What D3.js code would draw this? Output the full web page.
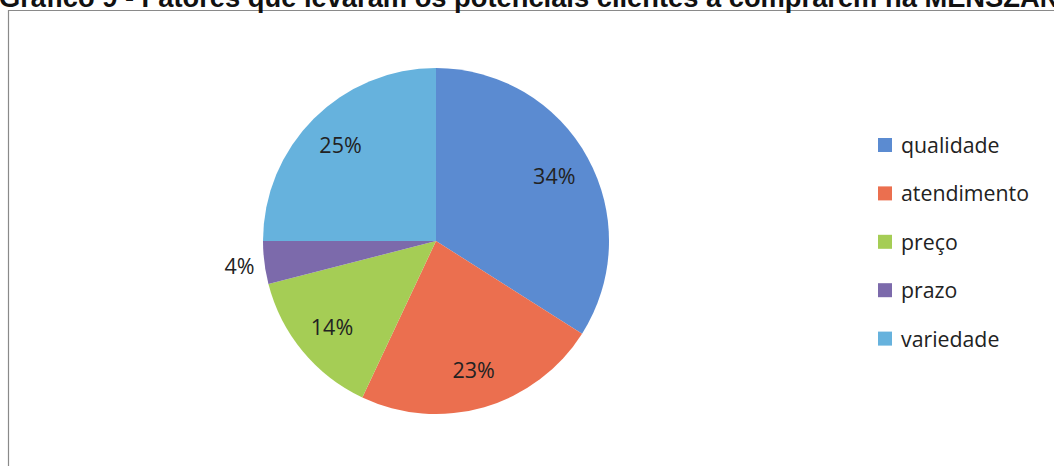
<!DOCTYPE html>
<html>
<head>
<meta charset="utf-8">
<script src="https://cdn.jsdelivr.net/npm/d3@7/dist/d3.min.js"></script>
<style>
html,body{margin:0;padding:0;background:#fff;}
svg{display:block;}
</style>
</head>
<body>
<script>
const categories = ["qualidade", "atendimento", "preço", "prazo", "variedade"];
const values = [34, 23, 14, 4, 25];
const labels = ["34%", "23%", "14%", "4%", "25%"];
const colors = ["#5b8bd1", "#eb6f4f", "#a5cd55", "#7c6aab", "#66b2dd"];
const title = "Gráfico 9 - Fatores que levaram os potenciais clientes a comprarem na MENSZAN";

const W = 1054, H = 466;
const svg = d3.select("body").append("svg").attr("width", W).attr("height", H);
svg.append("rect").attr("width", W).attr("height", H).attr("fill", "#fff");

// frame
svg.append("path")
  .attr("d", `M${W+5},10.5 H8.5 V${H+5}`)
  .attr("fill", "none").attr("stroke", "#8a8a8a").attr("stroke-width", 1.2);

// title (cut at top, as in the reference)
svg.append("text")
  .attr("x", -1).attr("y", 6.5)
  .attr("font-family", "Liberation Sans, Arial, sans-serif")
  .attr("font-weight", "bold").attr("font-size", 27.3)
  .attr("fill", "#111")
  .text(title);

const cx = 436, cy = 241, r = 173;
const pie = d3.pie().sort(null).value(d => d)(values);
const arc = d3.arc().innerRadius(0).outerRadius(r);
const labelArc = d3.arc().innerRadius(135).outerRadius(135);
const outArc = d3.arc().innerRadius(r + 25).outerRadius(r + 25);

const g = svg.append("g").attr("transform", `translate(${cx},${cy})`);
g.selectAll("path.slice").data(pie).join("path")
  .attr("class", "slice")
  .attr("d", arc)
  .attr("fill", (d, i) => colors[i]);

g.selectAll("text.lbl").data(pie).join("text")
  .attr("class", "lbl")
  .attr("transform", (d, i) => {
    const p = (values[i] < 6 ? outArc : labelArc).centroid(d);
    return `translate(${p[0]},${p[1]})`;
  })
  .attr("text-anchor", "middle")
  .attr("dy", "0.36em")
  .attr("font-family", "Open Sans, sans-serif")
  .attr("font-size", 21.5)
  .attr("fill", "#222")
  .text((d, i) => labels[i]);

// legend
const ly = d3.scalePoint().domain(categories).range([145, 338.6]);
const lg = svg.append("g");
lg.selectAll("rect").data(categories).join("rect")
  .attr("x", 878).attr("y", d => ly(d) - 7)
  .attr("width", 14).attr("height", 14)
  .attr("fill", (d, i) => colors[i]);
lg.selectAll("text").data(categories).join("text")
  .attr("x", 901).attr("y", d => ly(d) + 8)
  .attr("font-family", "Open Sans, sans-serif")
  .attr("font-size", 21.3)
  .attr("fill", "#222")
  .text(d => d);
</script>
</body>
</html>
